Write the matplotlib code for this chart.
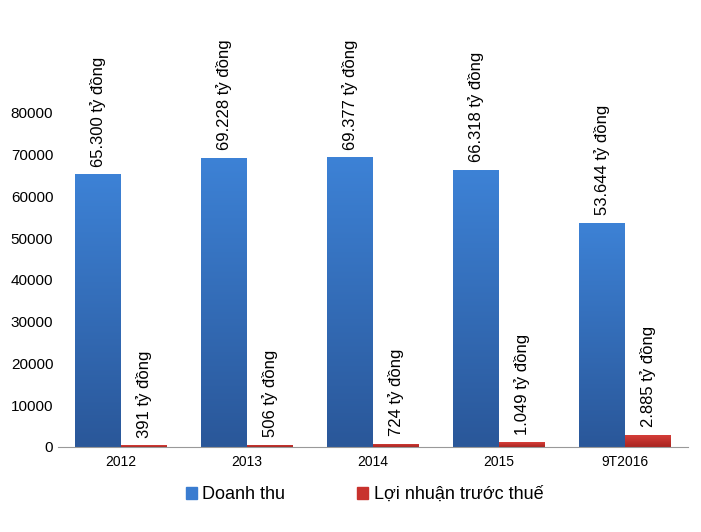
import matplotlib
matplotlib.use('Agg')
import matplotlib.pyplot as plt
import numpy as np
from matplotlib.patches import Patch

plt.rcParams['font.family'] = ['Liberation Sans', 'DejaVu Sans']

years = ['2012', '2013', '2014', '2015', '9T2016']
doanh_thu = [65300, 69228, 69377, 66318, 53644]
loi_nhuan = [391, 506, 724, 1049, 2885]
dt_labels = ['65.300 tỷ đồng', '69.228 tỷ đồng', '69.377 tỷ đồng', '66.318 tỷ đồng', '53.644 tỷ đồng']
ln_labels = ['391 tỷ đồng', '506 tỷ đồng', '724 tỷ đồng', '1.049 tỷ đồng', '2.885 tỷ đồng']

fig = plt.figure(figsize=(7.01, 5.32), dpi=100)
ax = fig.add_axes([0.083, 0.16, 0.898, 0.84])
x = np.arange(len(years))
w = 0.365
ax.set_xlim(-0.5, len(years) - 0.5)
ax.set_ylim(0, 107000)

blue_grad = np.linspace(0, 1, 256).reshape(-1, 1)
blue_cmap = matplotlib.colors.LinearSegmentedColormap.from_list('b', ['#2a5799', '#3d82d6'])
red_cmap = matplotlib.colors.LinearSegmentedColormap.from_list('r', ['#a82420', '#d9403a'])

def grad_bars(xs, vals, cmap):
    bars = ax.bar(xs, vals, w, color='none')
    for b in bars:
        x0, y0 = b.get_x(), b.get_y()
        im = ax.imshow(blue_grad, extent=[x0, x0 + b.get_width(), y0, y0 + b.get_height()],
                       origin='lower', cmap=cmap, aspect='auto', zorder=2)
        im.set_clip_path(b)
    return bars

grad_bars(x - w / 2, doanh_thu, blue_cmap)
grad_bars(x + w / 2, loi_nhuan, red_cmap)

for i in range(len(years)):
    ax.text(x[i] - w / 2, doanh_thu[i] + 1800, dt_labels[i], rotation=90,
            ha='center', va='bottom', fontsize=12)
    ax.text(x[i] + w / 2, loi_nhuan[i] + 1800, ln_labels[i], rotation=90,
            ha='center', va='bottom', fontsize=12)

ax.set_xticks(x)
ax.set_xticklabels(years, fontsize=10)
ax.set_yticks(range(0, 80001, 10000))
ax.set_yticklabels([str(v) for v in range(0, 80001, 10000)], fontsize=11)
ax.tick_params(axis='y', length=0)
ax.tick_params(axis='x', length=0, pad=6)
for s in ['top', 'right', 'left']:
    ax.spines[s].set_visible(False)
ax.spines['bottom'].set_color('#999999')

handles = [Patch(color='#3a7cd0', label='Doanh thu'), Patch(color='#c8322d', label='Lợi nhuận trước thuế')]
fig.legend(handles=handles, loc='center', bbox_to_anchor=(0.52, 0.07), ncol=2, frameon=False,
           fontsize=13, handlelength=0.6, handleheight=0.6, columnspacing=4, handletextpad=0.3)

fig.savefig('out.png', dpi=100)
